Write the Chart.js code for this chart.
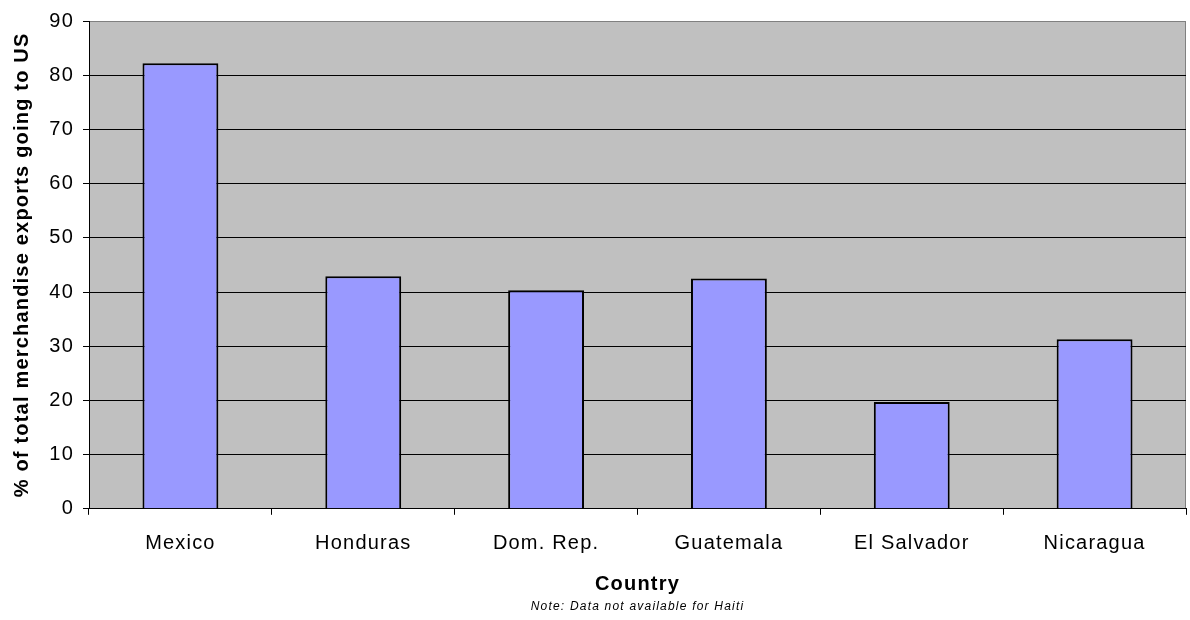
<!DOCTYPE html>
<html>
<head>
<meta charset="utf-8">
<script src="https://cdn.jsdelivr.net/npm/chart.js@4"></script>
<style>
  html, body { margin: 0; padding: 0; background: #fff; }
  #wrap { width: 1190px; height: 620px; }
</style>
</head>
<body>
<div id="wrap"><canvas id="barChart"></canvas></div>
<script>
const countries = ['Mexico', 'Honduras', 'Dom. Rep.', 'Guatemala', 'El Salvador', 'Nicaragua'];
const exportShare = [82.2, 42.9, 40.3, 42.5, 19.7, 31.3];
const yMin = 0;
const yMax = 90;
const yStep = 10;

// grey plot background + grey top/right frame, like the old Excel charts
const plotArea = {
    id: 'plotArea',
    beforeDraw(chart) {
        const { ctx, chartArea: a } = chart;
        ctx.save();
        ctx.fillStyle = '#C0C0C0';
        ctx.fillRect(a.left, a.top, a.right - a.left, a.bottom - a.top);
        ctx.strokeStyle = '#808080';
        ctx.lineWidth = 1;
        ctx.beginPath();
        ctx.moveTo(a.right - 0.5, a.top);
        ctx.lineTo(a.right - 0.5, a.bottom);
        ctx.stroke();
        ctx.restore();
        ctx.letterSpacing = '1.2px';
    }
};

const ctx = document.getElementById('barChart').getContext('2d');
const barChart = new Chart(ctx, {
    type: 'bar',
    data: {
        labels: countries,
        datasets: [{
            data: exportShare,
            backgroundColor: '#9999FF',
            borderColor: '#000000',
            borderWidth: 2,
            categoryPercentage: 1,
            barPercentage: 0.415
        }]
    },
    options: {
        responsive: true,
        maintainAspectRatio: false,
        animation: false,
        layout: { padding: { top: 21, right: 4, left: 0, bottom: 0 } },
        plugins: {
            legend: { display: false },
            tooltip: { enabled: false },
            subtitle: {
                display: true,
                position: 'bottom',
                fullSize: false,
                text: 'Note: Data not available for Haiti',
                color: '#000',
                font: { family: 'Liberation Sans', size: 12, style: 'italic' },
                padding: { top: 0, bottom: 6 }
            }
        },
        scales: {
            x: {
                afterFit(scale) { scale.height = 90.8; },
                grid: {
                    drawOnChartArea: false,
                    drawTicks: true,
                    tickLength: 6,
                    tickColor: '#000'
                },
                border: { color: '#000', width: 1 },
                ticks: {
                    color: '#000',
                    padding: 17,
                    font: { family: 'Liberation Sans', size: 20 }
                },
                title: {
                    display: true,
                    text: 'Country',
                    color: '#000',
                    font: { family: 'Liberation Sans', size: 20, weight: 'bold' },
                    padding: { top: 0, bottom: 3 }
                }
            },
            y: {
                min: yMin,
                max: yMax,
                afterFit(scale) { scale.width = 89; },
                grid: {
                    color: (c) => (c.tick && c.tick.value === yMax ? '#808080' : '#000'),
                    tickColor: '#000',
                    tickLength: 6,
                    lineWidth: 1
                },
                border: { color: '#000', width: 1 },
                ticks: {
                    stepSize: yStep,
                    color: '#000',
                    padding: 9,
                    font: { family: 'Liberation Sans', size: 20 }
                },
                title: {
                    display: true,
                    text: '% of total merchandise exports going to US',
                    color: '#000',
                    font: { family: 'Liberation Sans', size: 20, weight: 'bold' },
                    padding: { top: 10, bottom: 0 }
                }
            }
        }
    },
    plugins: [plotArea]
});
</script>
</body>
</html>
